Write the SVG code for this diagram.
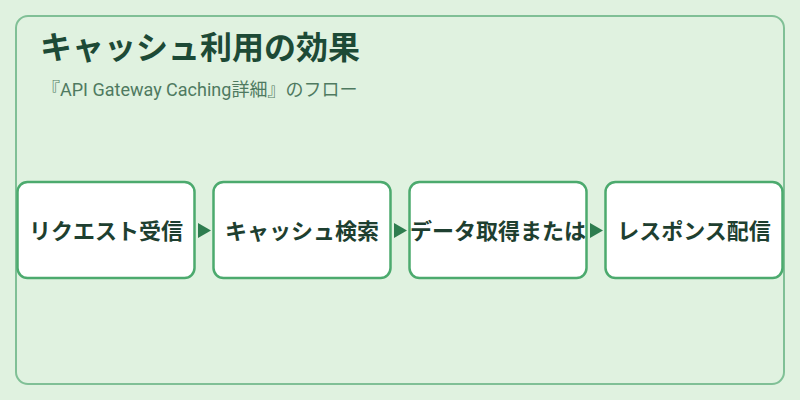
<svg xmlns="http://www.w3.org/2000/svg" width="800" height="400" viewBox="0 0 800 400">
  <style>
    .title { font-family: "Noto Sans CJK JP", "Noto Sans", sans-serif; font-size: 32px; font-weight: bold; fill: #1d4a36; }
    .subtitle { font-family: Roboto, "Noto Sans CJK JP", sans-serif; font-size: 18px; fill: #4f7a60; }
    .node rect { fill: #ffffff; stroke: #4caa6e; stroke-width: 2.5; }
    .node text { font-family: "Noto Sans CJK JP", "Noto Sans", sans-serif; font-size: 22px; font-weight: bold; fill: #1e3f30; text-anchor: middle; }
    .arrow { fill: #2e7d4f; }
  </style>
  <rect x="0" y="0" width="800" height="400" fill="#e0f2e0"/>
  <rect id="frame" x="16" y="16" width="768" height="368" rx="12" fill="#e0f2e0" stroke="#80c096" stroke-width="2"/>
  <text class="title" x="40" y="59">キャッシュ利用の効果</text>
  <text class="subtitle" x="42" y="96">『API Gateway Caching詳細』のフロー</text>
  <g id="connectors">
    <polygon class="arrow" points="198,223 211,230.5 198,238"/>
    <polygon class="arrow" points="394,223 407,230.5 394,238"/>
    <polygon class="arrow" points="590,223 603,230.5 590,238"/>
  </g>
  <g id="node1" class="node">
    <rect x="17.5" y="182" width="177" height="96" rx="10"/>
    <text x="106" y="239">リクエスト受信</text>
  </g>
  <g id="node2" class="node">
    <rect x="213.5" y="182" width="177" height="96" rx="10"/>
    <text x="302" y="239">キャッシュ検索</text>
  </g>
  <g id="node3" class="node">
    <rect x="409.5" y="182" width="177" height="96" rx="10"/>
    <text x="498" y="239">データ取得または</text>
  </g>
  <g id="node4" class="node">
    <rect x="605.5" y="182" width="177" height="96" rx="10"/>
    <text x="694" y="239">レスポンス配信</text>
  </g>
</svg>
